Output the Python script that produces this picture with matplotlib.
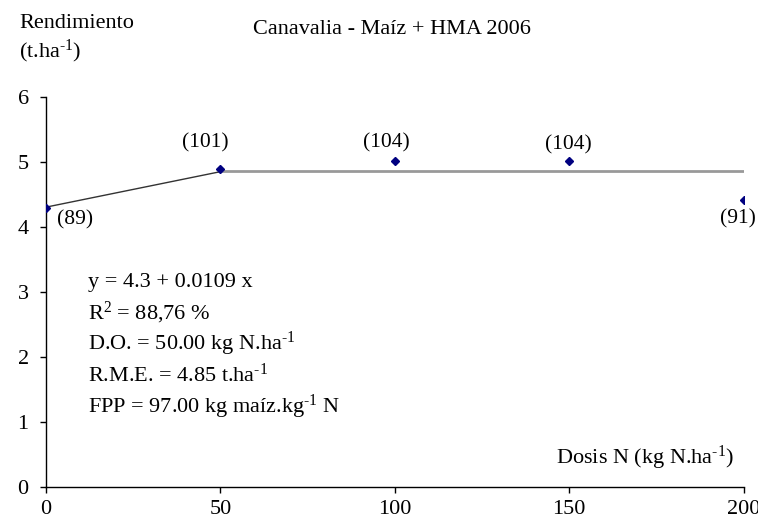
import matplotlib
matplotlib.use("Agg")
import matplotlib.pyplot as plt

plt.rcParams['font.family'] = ['Liberation Serif', 'DejaVu Serif']
plt.rcParams['mathtext.fontset'] = 'custom'
plt.rcParams['mathtext.rm'] = 'Liberation Serif'
plt.rcParams['mathtext.it'] = 'Liberation Serif:italic'

# Data: N dose vs maize yield
dosis = [0, 50, 100, 150, 200]
rendimiento = [4.29, 4.89, 5.01, 5.01, 4.41]
relativo = [89, 101, 104, 104, 91]

# Linear-plateau fit
intercepto = 4.3
pendiente = 0.0109
dosis_optima = 50.0
rme = 4.85
x_max = 200

INV = r"$^{\text{-}1}$"   # superscript "-1" with a hyphen

fig = plt.figure(figsize=(7.58, 5.24), dpi=100)
ax = fig.add_axes([46/758, 1-487/524, (743.5-46)/758, (487-96.5)/524])

# fitted model: linear segment then plateau
ax.plot([0, dosis_optima], [intercepto, intercepto + pendiente*dosis_optima],
        color='#333333', lw=1.0, zorder=2)
ax.plot([dosis_optima, x_max], [rme, rme], color='#999999', lw=2.0, zorder=2)

ax.plot(dosis, rendimiento, linestyle='none', marker='D', markersize=4.2,
        color='#000080', zorder=3)

# relative yield labels (offsets in pixels)
offsets = [(29, -12), (-15, 26), (-8, 18), (-1, 16), (-6, -19)]
for x, y, r, (dx, dy) in zip(dosis, rendimiento, relativo, offsets):
    ax.annotate(f"({r})", (x, y), xytext=(dx, dy), textcoords='offset pixels',
                ha='center', va='center', fontsize=15.5)

ax.set_xlim(0, 200)
ax.set_ylim(0, 6)
ax.set_xticks([0, 50, 100, 150, 200])
ax.set_yticks([0, 1, 2, 3, 4, 5, 6])
ax.tick_params(direction='out', length=4.5, width=1, labelsize=16, color='black')
ax.tick_params(axis='y', pad=8)
ax.tick_params(axis='x', pad=5)
for s in ['top', 'right']:
    ax.spines[s].set_visible(False)
for s in ['left', 'bottom']:
    ax.spines[s].set_color('black')
    ax.spines[s].set_linewidth(1)

eq_lines = [
    f"y = {intercepto} + {pendiente} x",
    r"R$^{2}$ = 88,76 %",
    f"D.O. = {dosis_optima:.2f} kg N.ha" + INV,
    f"R.M.E. = {rme:.2f} t.ha" + INV,
    "FPP = 97.00 kg maíz.kg" + INV + " N",
]
for i, t in enumerate(eq_lines):
    fig.text(88/758, 1-(282+i*31.2)/524, t, fontsize=16, ha='left', va='center')

fig.text(19/758, 1-23/524, "Rendimiento", fontsize=16, ha='left', va='center')
fig.text(19/758, 1-51/524, "(t.ha" + INV + ")", fontsize=16, ha='left', va='center')
fig.text(392/758, 1-30/524, "Canavalia - Maíz + HMA 2006", fontsize=16, ha='center', va='center')
fig.text(734/758, 1-458/524, "Dosis N (kg N.ha" + INV + ")", fontsize=16, ha='right', va='center')

fig.savefig("out.png", dpi=100)
